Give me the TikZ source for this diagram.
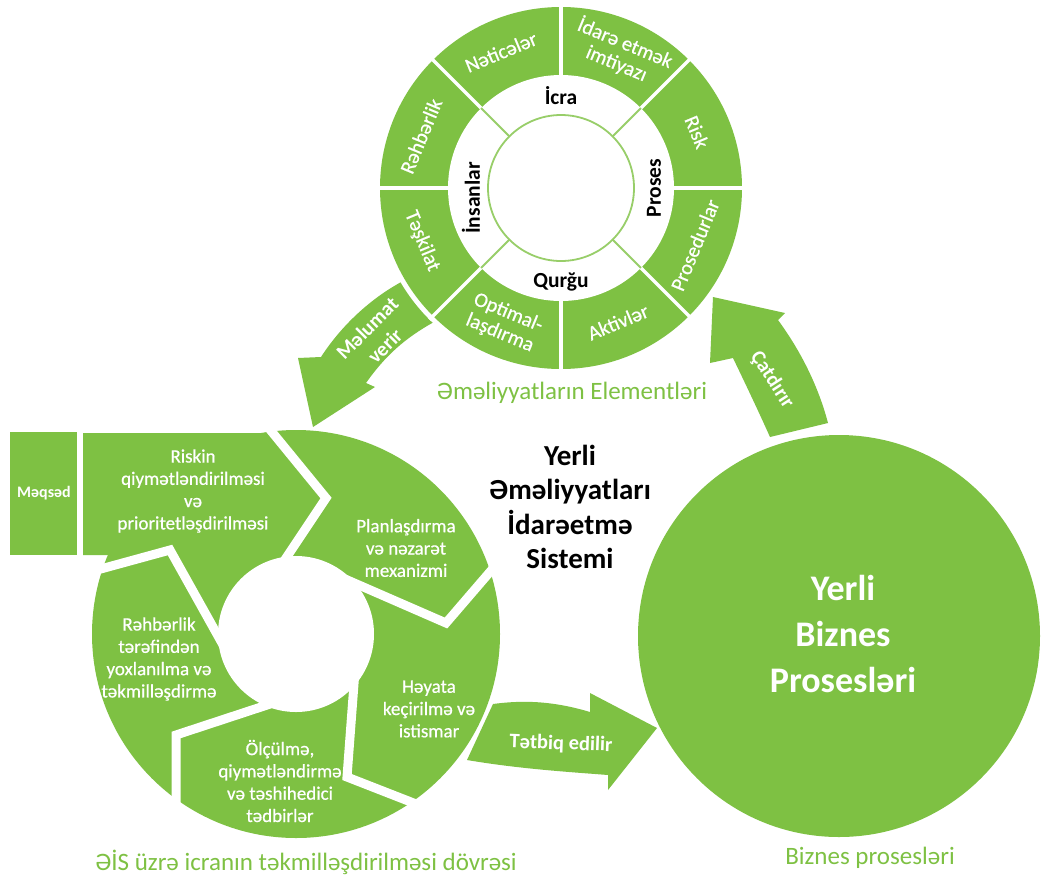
\documentclass[tikz,border=0pt]{standalone}
\usepackage{fontspec}
\setmainfont{Carlito}
\newfontfamily\semib[FakeBold=0.6]{Carlito}
\usetikzlibrary{calc}
\definecolor{gr}{RGB}{126,193,67}
\begin{document}
\begin{tikzpicture}[x=1pt,y=-1pt,
  ringlbl/.style={text=white, font=\semib\fontsize{20.5}{22}\selectfont, align=center, inner sep=0pt},
  innerlbl/.style={text=black, font=\bfseries\fontsize{21.5}{22}\selectfont, inner sep=0pt},
  cyclbl/.style={text=white, font=\semib\fontsize{19}{22.3}\selectfont, align=center, inner sep=0pt},
  arrlbl/.style={text=white, font=\bfseries\fontsize{20.5}{23}\selectfont, align=center, inner sep=0pt},
  glabel/.style={text=gr, font=\fontsize{25}{30}\selectfont, inner sep=0pt},
  gapline/.style={white, line width=9pt, line join=miter},
  divline/.style={white, line width=3.5pt},
  thinline/.style={gr!80, line width=1.8pt}
]
\useasboundingbox (0,0) rectangle (1046,884);
\fill[white] (0,0) rectangle (1046,884);

% centres
\coordinate (T) at (561,188);
\coordinate (C) at (296,634);
\coordinate (B) at (839,636);

% ---------- arrows ----------
% Malumat verir
\fill[gr] (455,258) -- (405,280) .. controls (374,296) and (343,323) .. (321,357)
  -- (298,358) -- (313,427) -- (375,387) -- (366,383)
  .. controls (385,356) and (405,338) .. (434,322) -- (475,300) -- cycle;
% Catdirir
\fill[gr] (770,437) .. controls (757,408) and (745,383) .. (733,358)
  -- (710,363) -- (713,297) -- (785,313) -- (778,320)
  .. controls (800,350) and (818,385) .. (828,423) -- cycle;
% Tetbiq edilir
\fill[gr] (493,704) .. controls (530,699) and (560,703) .. (590,712)
  -- (590,693) -- (657,728) -- (608,790) -- (608,775)
  .. controls (570,772) and (520,769) .. (467,760) -- cycle;

% ---------- business circle ----------
\fill[gr] (B) circle (201);

% ---------- top ring ----------
\fill[white] (T) circle (186);
\fill[gr] (T) circle (181);
\foreach \a in {0,45,...,315}
  \draw[divline] ($(T)+({110*cos(\a)},{-110*sin(\a)})$) -- ($(T)+({186*cos(\a)},{-186*sin(\a)})$);
\fill[white] (T) circle (113);
\draw[thinline] (T) circle (73);
\foreach \a in {45,135,225,315}
  \draw[thinline] ($(T)+({73*cos(\a)},{-73*sin(\a)})$) -- ($(T)+({113*cos(\a)},{-113*sin(\a)})$);

% ---------- cycle ----------
\fill[gr] (C) circle (204);
\fill[gr] (83,433) -- (274,433) -- (328,498) -- (292,555) -- (83,555) -- cycle;
\fill[gr] (10,432) rectangle (77,555);
\coordinate (J1o) at (272,432); \coordinate (J1t) at (326,498); \coordinate (J1i) at (290,552);
\coordinate (J2o) at (489,573); \coordinate (J2t) at (446,623); \coordinate (J2i) at (368,589);
\coordinate (J3o) at (411,802); \coordinate (J3t) at (347,777); \coordinate (J3i) at (353,697);
\coordinate (J4o) at (176,800); \coordinate (J4t) at (176,735); \coordinate (J4i) at (258,708);
\coordinate (J5o) at (97,570);  \coordinate (J5t) at (170,550); \coordinate (J5i) at (213,627);
\foreach \j in {J1,J2,J3,J4,J5}
  \draw[gapline] ($(\j t)!1.2!(\j o)$) -- (\j t) -- ($(\j t)!1.3!(\j i)$);
\fill[white] (C) circle (78);

% ---------- top ring labels ----------
\node[ringlbl, rotate=22.5]  (nat) at (501,52)  {Nəticələr};
\node[ringlbl, rotate=-22.5] (ida) at (621,53)  {İdarə etmək\\imtiyazı};
\node[ringlbl, rotate=-67.5] (ris) at (697,132) {Risk};
\node[ringlbl, rotate=67.5]  (pro) at (695,245) {Prosedurlar};
\node[ringlbl, rotate=22.5]  (akt) at (618,322) {Aktivlər};
\node[ringlbl, rotate=-22.5] (opt) at (504,323) {Optimal-\\laşdırma};
\node[ringlbl, rotate=-67.5] (tes) at (422,241) {Təşkilat};
\node[ringlbl, rotate=67.5]  (reh) at (421,136) {Rəhbərlik};

\node[innerlbl] (icr) at (561,96) {İcra};
\node[innerlbl] (qur) at (561,282) {Qurğu};
\node[innerlbl, rotate=90] (prs) at (654,188) {Proses};
\node[innerlbl, rotate=90] (ins) at (471,198) {İnsanlar};

% ---------- cycle labels ----------
\node[text=white, font=\bfseries\fontsize{16}{18}\selectfont, inner sep=0pt] (meq) at (44,493) {Məqsəd};
\node[cyclbl] (rsk) at (193,491) {Riskin\\qiymətləndirilməsi\\və\\prioritetləşdirilməsi};
\node[cyclbl] (pln) at (406,548) {Planlaşdırma\\və nəzarət\\mexanizmi};
\node[cyclbl] (hey) at (429,709) {Həyata\\keçirilmə və\\istismar};
\node[cyclbl] (olc) at (280,781) {Ölçülmə,\\qiymətləndirmə\\və təshihedici\\tədbirlər};
\node[cyclbl] (rhb) at (159,659) {Rəhbərlik\\tərəfindən\\yoxlanılma və\\təkmilləşdirmə};

% ---------- arrow labels ----------
\node[arrlbl, rotate=45, font=\bfseries\fontsize{20.5}{25}\selectfont] (mlv) at (376,337) {Məlumat\\verir};
\node[arrlbl, rotate=-57] (cat) at (772,380) {Çatdırır};
\node[arrlbl, rotate=-2]  (tet) at (561,744) {Tətbiq edilir};

% ---------- centre texts ----------
\node[text=black, font=\bfseries\fontsize{29}{34.5}\selectfont, align=center, inner sep=0pt] (yes) at (570,507)
  {Yerli\\Əməliyyatları\\İdarəetmə\\Sistemi};
\node[text=white, font=\bfseries\fontsize{36}{46}\selectfont, align=center, inner sep=0pt] (ybp) at (843,634)
  {Yerli\\Biznes\\Prosesləri};

% ---------- captions ----------
\node[glabel] (ele) at (572,393) {Əməliyyatların Elementləri};
\node[glabel] (dov) at (306,862) {ƏİS üzrə icranın təkmilləşdirilməsi dövrəsi};
\node[glabel] (biz) at (870,858) {Biznes prosesləri};
\end{tikzpicture}
\end{document}
